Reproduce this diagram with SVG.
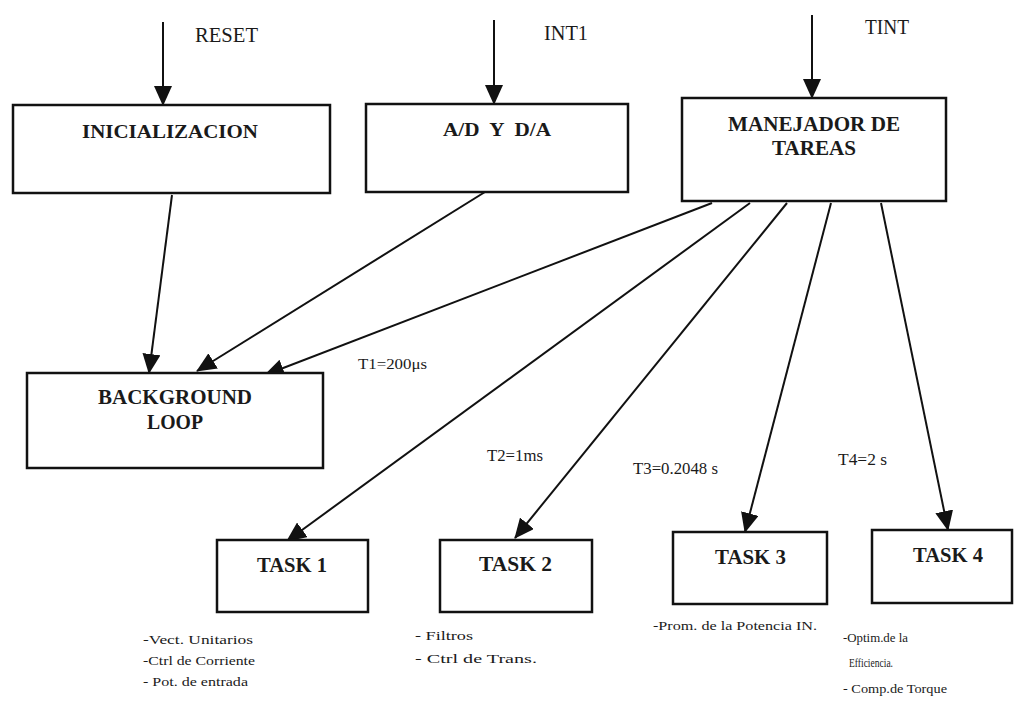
<svg xmlns="http://www.w3.org/2000/svg" width="1014" height="709" viewBox="0 0 1014 709">
<style>
.box{fill:#fff;stroke:#111;stroke-width:2.5}
.t{font-family:"Liberation Serif",serif;fill:#1a1a1a}
.b{font-weight:bold}
.c{stroke:#111;stroke-width:2;fill:none;marker-end:url(#ah)}
</style>
<defs>
<marker id="ah" markerUnits="userSpaceOnUse" markerWidth="20" markerHeight="18" refX="19" refY="9" orient="auto">
<path d="M0,0 L20,9 L0,18 z" fill="#111"/>
</marker>
</defs>
<rect width="1014" height="709" fill="#fff"/>
<g id="connectors">
<line class="c" x1="163" y1="22" x2="163" y2="105"/>
<line class="c" x1="494" y1="20" x2="494" y2="104"/>
<line class="c" x1="812" y1="15" x2="812" y2="98"/>
<line class="c" x1="172" y1="195" x2="149" y2="373"/>
<line class="c" x1="493" y1="187" x2="197" y2="371"/>
<line class="c" x1="712" y1="203" x2="265" y2="375"/>
<line class="c" x1="750" y1="203" x2="287" y2="541"/>
<line class="c" x1="787" y1="203" x2="515" y2="538"/>
<line class="c" x1="831" y1="203" x2="745" y2="532"/>
<line class="c" x1="881" y1="203" x2="948" y2="530"/>
</g>
<g id="labels">
<text class="t" x="195" y="42" font-size="20" textLength="63" lengthAdjust="spacingAndGlyphs">RESET</text>
<text class="t" x="544" y="40" font-size="20" textLength="44" lengthAdjust="spacingAndGlyphs">INT1</text>
<text class="t" x="865" y="34" font-size="20" textLength="44" lengthAdjust="spacingAndGlyphs">TINT</text>
<text class="t" x="358" y="369" font-size="15" textLength="69" lengthAdjust="spacingAndGlyphs">T1=200μs</text>
<text class="t" x="487" y="461" font-size="16" textLength="56" lengthAdjust="spacingAndGlyphs">T2=1ms</text>
<text class="t" x="633" y="474" font-size="16" textLength="85" lengthAdjust="spacingAndGlyphs">T3=0.2048 s</text>
<text class="t" x="838" y="465" font-size="16" textLength="49" lengthAdjust="spacingAndGlyphs">T4=2 s</text>
</g>
<g id="inicializacion">
<rect class="box" x="13" y="105" width="317" height="88"/>
<text class="t b" x="82" y="138" font-size="19" textLength="176" lengthAdjust="spacingAndGlyphs">INICIALIZACION</text>
</g>
<g id="ad-da">
<rect class="box" x="366" y="104" width="262" height="88"/>
<text class="t b" x="443" y="136" font-size="18" textLength="108" lengthAdjust="spacingAndGlyphs" xml:space="preserve">A/D  Y  D/A</text>
</g>
<g id="manejador">
<rect class="box" x="682" y="98" width="264" height="103"/>
<text class="t b" x="728" y="131" font-size="20" textLength="172" lengthAdjust="spacingAndGlyphs">MANEJADOR DE</text>
<text class="t b" x="772" y="155" font-size="20" textLength="84" lengthAdjust="spacingAndGlyphs">TAREAS</text>
</g>
<g id="background-loop">
<rect class="box" x="27" y="373" width="296" height="95"/>
<text class="t b" x="98" y="404" font-size="20" textLength="154" lengthAdjust="spacingAndGlyphs">BACKGROUND</text>
<text class="t b" x="147" y="429" font-size="20" textLength="56" lengthAdjust="spacingAndGlyphs">LOOP</text>
</g>
<g id="task1">
<rect class="box" x="217" y="540" width="151" height="72"/>
<text class="t b" x="257" y="572" font-size="20" textLength="70" lengthAdjust="spacingAndGlyphs">TASK 1</text>
<text class="t" x="143" y="644" font-size="13" textLength="110" lengthAdjust="spacingAndGlyphs">-Vect. Unitarios</text>
<text class="t" x="143" y="665" font-size="13" textLength="112" lengthAdjust="spacingAndGlyphs">-Ctrl de Corriente</text>
<text class="t" x="143" y="686" font-size="13" textLength="105" lengthAdjust="spacingAndGlyphs">- Pot. de entrada</text>
</g>
<g id="task2">
<rect class="box" x="440" y="540" width="152" height="72"/>
<text class="t b" x="479" y="571" font-size="20" textLength="73" lengthAdjust="spacingAndGlyphs">TASK 2</text>
<text class="t" x="415" y="640" font-size="13" textLength="58" lengthAdjust="spacingAndGlyphs">- Filtros</text>
<text class="t" x="415" y="663" font-size="13" textLength="122" lengthAdjust="spacingAndGlyphs">- Ctrl de Trans.</text>
</g>
<g id="task3">
<rect class="box" x="673" y="532" width="154" height="72"/>
<text class="t b" x="715" y="564" font-size="20" textLength="71" lengthAdjust="spacingAndGlyphs">TASK 3</text>
<text class="t" x="653" y="630" font-size="13" textLength="164" lengthAdjust="spacingAndGlyphs">-Prom. de la Potencia IN.</text>
</g>
<g id="task4">
<rect class="box" x="872" y="530" width="140" height="73"/>
<text class="t b" x="913" y="562" font-size="20" textLength="70" lengthAdjust="spacingAndGlyphs">TASK 4</text>
<text class="t" x="843" y="642" font-size="13" textLength="65" lengthAdjust="spacingAndGlyphs">-Optim.de la</text>
<text class="t" x="849" y="667" font-size="13" textLength="44" lengthAdjust="spacingAndGlyphs">Efficiencia.</text>
<text class="t" x="843" y="693" font-size="13" textLength="104" lengthAdjust="spacingAndGlyphs">- Comp.de Torque</text>
</g>
</svg>
